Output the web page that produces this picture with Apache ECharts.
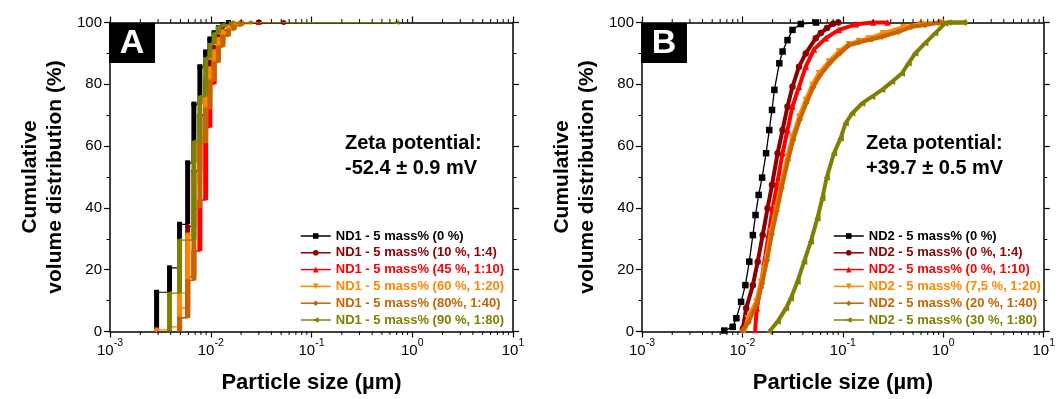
<!DOCTYPE html>
<html>
<head>
<meta charset="utf-8">
<script src="https://cdn.jsdelivr.net/npm/echarts@6/dist/echarts.min.js"></script>
<style>
  html, body { margin: 0; padding: 0; background: #fff; }
  #chart { width: 1058px; height: 399px; }
</style>
</head>
<body>
<div id="chart"></div>
<script>
// ---- Panel A: ND1 dispersions (size in µm, cumulative volume %) ----
const namesA = ['ND1 - 5 mass% (0 %)', 'ND1 - 5 mass% (10 %, 1:4)', 'ND1 - 5 mass% (45 %, 1:10)',
                'ND1 - 5 mass% (60 %, 1:20)', 'ND1 - 5 mass% (80%, 1:40)', 'ND1 - 5 mass% (90 %, 1:80)'];

const sizeA0 = [0.0029, 0.0039, 0.0049, 0.0059, 0.0068, 0.0078, 0.0089, 0.0098, 0.0108, 0.0119, 0.0132, 0.0150, 0.0300];
const cumA0  = [12.7, 20.6, 34.7, 54.6, 73.6, 85.7, 90.5, 94.7, 96.7, 98.3, 99.3, 100, 100];

const sizeA1 = [0.0049, 0.0059, 0.0068, 0.0078, 0.0089, 0.0098, 0.0108, 0.0119, 0.0132, 0.0150, 0.0170, 0.0200, 0.0530];
const cumA1  = [4.5, 34, 52, 70, 81.4, 87.3, 92, 95.5, 97.5, 98.8, 99.6, 100, 100];

const sizeA2 = [0.0049, 0.0059, 0.0068, 0.0078, 0.0089, 0.0098, 0.0108, 0.0119, 0.0132, 0.0150, 0.0170, 0.0200, 0.0300];
const cumA2  = [7.6, 17.7, 26, 42.5, 66, 80, 88, 93, 96, 98, 99.2, 100, 100];

const sizeA3 = [0.0029, 0.0039, 0.0049, 0.0059, 0.0068, 0.0078, 0.0089, 0.0098, 0.0108, 0.0119, 0.0132, 0.0150, 0.0170, 0.0200];
const cumA3  = [0.5, 1.5, 12.4, 31.2, 48, 63, 77, 85, 90.5, 94.5, 97, 98.5, 99.5, 100];

const sizeA4 = [0.0049, 0.0059, 0.0068, 0.0078, 0.0089, 0.0098, 0.0108, 0.0119, 0.0132, 0.0150, 0.0170, 0.0200, 0.0250];
const cumA4  = [4.4, 16.5, 40, 61, 72, 81, 87, 92, 95.5, 97.5, 98.8, 99.6, 100];

const sizeA5 = [0.0039, 0.0049, 0.0068, 0.0078, 0.0089, 0.0098, 0.0108, 0.0119, 0.0132, 0.0160, 0.7000];
const cumA5  = [12.4, 29.6, 61.4, 76, 88.4, 93, 96.4, 98.5, 99.3, 100, 100];

// ---- Panel B: ND2 dispersions ----
const namesB = ['ND2 - 5 mass% (0 %)', 'ND2 - 5 mass% (0 %, 1:4)', 'ND2 - 5 mass% (0 %, 1:10)',
                'ND2 - 5 mass% (7,5 %, 1:20)', 'ND2 - 5 mass% (20 %, 1:40)', 'ND2 - 5 mass% (30 %, 1:80)'];

const sizeB0 = [0.0066, 0.0080, 0.0087, 0.0097, 0.0107, 0.0117, 0.0127, 0.0135, 0.0145, 0.0157, 0.0172, 0.0185,
                0.0197, 0.0208, 0.0233, 0.0251, 0.0281, 0.0315, 0.0381, 0.054];
const cumB0  = [0.3, 1.5, 4.3, 9.6, 15, 22.6, 31.2, 37.7, 44.2, 49.8, 57.7, 65.2, 71.7, 78.2, 86.8, 90.6, 94.3, 97.6, 99.5, 100];

const sizeB1 = [0.0101, 0.0109, 0.0127, 0.0142, 0.0159, 0.0178, 0.0197, 0.0224, 0.0251, 0.0281, 0.0315, 0.0366,
                0.0427, 0.0537, 0.0603, 0.0695, 0.080, 0.090];
const cumB1  = [1, 7.5, 15, 22.6, 31.2, 39.9, 47.4, 57.7, 65.2, 72.8, 79.2, 85.7, 90, 94.9, 96.6, 98.2, 99.6, 100];

const sizeB2 = [0.0134, 0.0139, 0.0153, 0.0165, 0.0182, 0.0200, 0.0224, 0.0251, 0.0281, 0.0315, 0.0366, 0.0427,
                0.0516, 0.0675, 0.0912, 0.135, 0.200, 0.280];
const cumB2  = [0.5, 7.5, 15, 22.6, 31.2, 39.9, 48.5, 57.7, 65.2, 72.8, 79.2, 85.7, 91.3, 94.9, 97.6, 99.4, 100, 100];

const sizeB3 = [0.0105, 0.0113, 0.0137, 0.0153, 0.0172, 0.0192, 0.0216, 0.0242, 0.0281, 0.0315, 0.0366, 0.0427,
                0.0497, 0.0578, 0.0726, 0.0912, 0.1145, 0.1438, 0.180, 0.250, 0.400, 0.600, 0.950];
const cumB3  = [0.3, 4.3, 9.6, 16.1, 23.7, 32.3, 39.9, 47.4, 56.6, 63, 69.5, 74.9, 79.8, 83.6, 87.4, 90.6, 93,
                94, 94.8, 96.5, 98.5, 99.5, 100];

const sizeB4 = [0.0100, 0.0115, 0.0140, 0.0157, 0.0176, 0.0196, 0.0220, 0.0246, 0.0285, 0.0320, 0.0372, 0.0434,
                0.0505, 0.0590, 0.0740, 0.0930, 0.115, 0.144, 0.195, 0.245, 0.358, 0.485, 0.659, 0.891, 1.65];
const cumB4  = [0.3, 3, 9, 15.5, 23, 31.5, 39, 46.5, 55.5, 62, 68.5, 74, 79, 82.8, 86.8, 90, 92.6, 93.6, 94.6,
                95.4, 97, 98.6, 99.2, 99.9, 100];

const sizeB5 = [0.0185, 0.0224, 0.0271, 0.0303, 0.0353, 0.0411, 0.0479, 0.0557, 0.0624, 0.0690, 0.0815, 0.0948,
                0.1065, 0.1236, 0.1552, 0.195, 0.245, 0.308, 0.386, 0.450, 0.525, 0.659, 0.828, 1.04, 1.12, 1.60];
const cumB5  = [0, 3.2, 7.5, 10.7, 16.1, 22.6, 29.1, 36.6, 43.1, 49.8, 57.7, 62.5, 67.4, 70.6, 73.8, 76, 78.2,
                80.8, 83.5, 86.8, 90, 93.3, 96.5, 99.7, 100, 100];

// ---- Axis settings ----
const xMin = 0.001, xMax = 10;
const zetaA = ['Zeta potential:', '-52.4 ± 0.9 mV'];
const zetaB = ['Zeta potential:', '+39.7 ± 0.5 mV'];

const FONT = '"Liberation Sans", Arial, Helvetica, sans-serif';
const COLORS = ['#000000', '#8B0000', '#FF0000', '#FF8800', '#C86400', '#808000'];
const SYMBOLS = ['rect', 'circle', 'triangle', 'path://M0,0L10,0L5,10Z', 'diamond', 'path://M10,0L10,10L0,5Z'];

const seriesA = [[sizeA0, cumA0], [sizeA1, cumA1], [sizeA2, cumA2], [sizeA3, cumA3], [sizeA4, cumA4], [sizeA5, cumA5]];
const seriesB = [[sizeB0, cumB0], [sizeB1, cumB1], [sizeB2, cumB2], [sizeB3, cumB3], [sizeB4, cumB4], [sizeB5, cumB5]];

// minor ticks of the log axis: 2..9 within each decade
const minorTicks = [];
for (let e = -3; e <= 0; e++) {
  for (let m = 2; m <= 9; m++) minorTicks.push([m * Math.pow(10, e), 0]);
}

function zip(xs, ys) { return xs.map((x, i) => [x, ys[i]]); }

function xAxisPair(gi) {
  const common = {
    type: 'log', logBase: 10, min: xMin, max: xMax, splitNumber: 4, gridIndex: gi,
    splitLine: { show: false },
    axisLine: { show: true, onZero: false, lineStyle: { color: '#000', width: 1.5 } },
    axisTick: { show: true, inside: false, length: 6, lineStyle: { color: '#000', width: 1.2 } }
  };
  return [
    Object.assign({}, common, {
      position: 'bottom',
      axisLabel: {
        color: '#000', margin: 6,
        formatter: v => '{b|10}{e|' + Math.round(Math.log10(v)) + '}',
        rich: {
          b: { fontSize: 15, fontFamily: FONT, color: '#000', padding: [6, 0, 0, 0] },
          e: { fontSize: 10.5, fontFamily: FONT, color: '#000', verticalAlign: 'top' }
        }
      },
      name: 'Particle size (µm)', nameLocation: 'middle', nameGap: 40,
      nameTextStyle: { fontFamily: FONT, fontWeight: 'bold', fontSize: 22, color: '#000' }
    }),
    Object.assign({}, common, { position: 'top', axisLabel: { show: false } })
  ];
}

function yAxisPair(gi) {
  const common = {
    type: 'value', min: 0, max: 100, interval: 20, gridIndex: gi,
    splitLine: { show: false },
    axisLine: { show: true, onZero: false, lineStyle: { color: '#000', width: 1.5 } },
    axisTick: { show: true, inside: false, length: 6, lineStyle: { color: '#000', width: 1.2 } },
    minorTick: { show: true, splitNumber: 2, length: 3.5, lineStyle: { color: '#000', width: 1 } }
  };
  return [
    Object.assign({}, common, {
      position: 'left',
      axisLabel: { color: '#000', fontSize: 15, fontFamily: FONT, margin: 8 },
      name: 'Cumulative\nvolume distribution (%)', nameLocation: 'middle', nameGap: 42, nameRotate: 90,
      nameTextStyle: { fontFamily: FONT, fontWeight: 'bold', fontSize: 21, lineHeight: 25, color: '#000' }
    }),
    Object.assign({}, common, { position: 'right', axisLabel: { show: false } })
  ];
}

function minorTickSeries(gi) {
  return {
    type: 'custom', xAxisIndex: gi * 2, yAxisIndex: gi * 2, silent: true, clip: false, z: 5,
    data: minorTicks,
    encode: { x: 0, y: 1 },
    renderItem: (params, api) => {
      const v = api.value(0);
      const b = api.coord([v, 0]);
      const t = api.coord([v, 100]);
      const st = { stroke: '#000', lineWidth: 1 };
      return {
        type: 'group', children: [
          { type: 'line', shape: { x1: b[0], y1: b[1], x2: b[0], y2: b[1] + 3.5 }, style: st },
          { type: 'line', shape: { x1: t[0], y1: t[1], x2: t[0], y2: t[1] - 3.5 }, style: st }
        ]
      };
    }
  };
}

const series = [];

// Panel A: each size bin is a dense vertical stack of points, joined by steps
seriesA.forEach(([sizes, cum], k) => {
  const bars = sizes.map((s, i) => [s, i === 0 ? 0 : cum[i - 1], cum[i]]);
  series.push({
    type: 'custom', xAxisIndex: 0, yAxisIndex: 0, silent: true, clip: false, z: 2 + k * 0.1,
    data: bars, encode: { x: 0, y: [1, 2] },
    renderItem: (params, api) => {
      const x = api.value(0);
      const top = api.coord([x, api.value(2)]);
      const bot = api.coord([x, api.value(1)]);
      return {
        type: 'rect',
        shape: { x: top[0] - 2.5, y: top[1] - 1, width: 5, height: Math.max(bot[1] - top[1] + 1, 2) },
        style: { fill: COLORS[k] }
      };
    }
  });
  series.push({
    type: 'line', name: namesA[k], xAxisIndex: 0, yAxisIndex: 0, clip: false, z: 2 + k * 0.1,
    step: 'end', data: zip(sizes, cum),
    symbol: SYMBOLS[k], symbolSize: 5, showSymbol: true,
    itemStyle: { color: COLORS[k] },
    lineStyle: { color: COLORS[k], width: 1.2 },
    emphasis: { disabled: true }
  });
});

// Panel B: densely measured distributions
seriesB.forEach(([sizes, cum], k) => {
  series.push({
    type: 'line', name: namesB[k], xAxisIndex: 2, yAxisIndex: 2, clip: false, z: 2 + k * 0.1,
    data: zip(sizes, cum),
    symbol: SYMBOLS[k], symbolSize: 6.5, showSymbol: true,
    itemStyle: { color: COLORS[k] },
    lineStyle: { color: COLORS[k], width: k === 0 ? 1.3 : 4 },
    emphasis: { disabled: true }
  });
});

series.push(minorTickSeries(0), minorTickSeries(1));

function legendFor(names, left) {
  return {
    orient: 'vertical', left: left, top: 229,
    itemWidth: 30, itemHeight: 7, itemGap: 2.8, padding: 0,
    selectedMode: false,
    lineStyle: { width: 1.5 },
    textStyle: { fontFamily: FONT, fontWeight: 'bold', fontSize: 13, lineHeight: 14 },
    data: names.map((n, k) => ({ name: n, textStyle: { color: COLORS[k] } }))
  };
}

function panelLabel(letter, x) {
  return [
    { type: 'rect', x: x, y: 23, shape: { width: 46, height: 40 }, style: { fill: '#000' }, z: 10 },
    { type: 'text', x: x + 23, y: 44, z: 11,
      style: { text: letter, fill: '#fff', font: 'bold 34px ' + FONT, align: 'center', verticalAlign: 'middle' } }
  ];
}

function zetaText(lines, x) {
  return lines.map((t, i) => ({
    type: 'text', x: x, y: 143 + i * 25, z: 11,
    style: { text: t, fill: '#000', font: 'bold 20px ' + FONT, align: 'left', verticalAlign: 'middle' }
  }));
}

const chart = echarts.init(document.getElementById('chart'), null, { renderer: 'canvas' });
chart.setOption({
  animation: false,
  backgroundColor: '#fff',
  grid: [
    { left: 110, top: 22.5, width: 403, height: 309 },
    { left: 642, top: 22.5, width: 404, height: 309 }
  ],
  xAxis: [...xAxisPair(0), ...xAxisPair(1)],
  yAxis: [...yAxisPair(0), ...yAxisPair(1)],
  legend: [legendFor(namesA, 300), legendFor(namesB, 833)],
  graphic: [
    ...panelLabel('A', 109), ...panelLabel('B', 641),
    ...zetaText(zetaA, 345), ...zetaText(zetaB, 866)
  ],
  series: series
});
</script>
</body>
</html>
